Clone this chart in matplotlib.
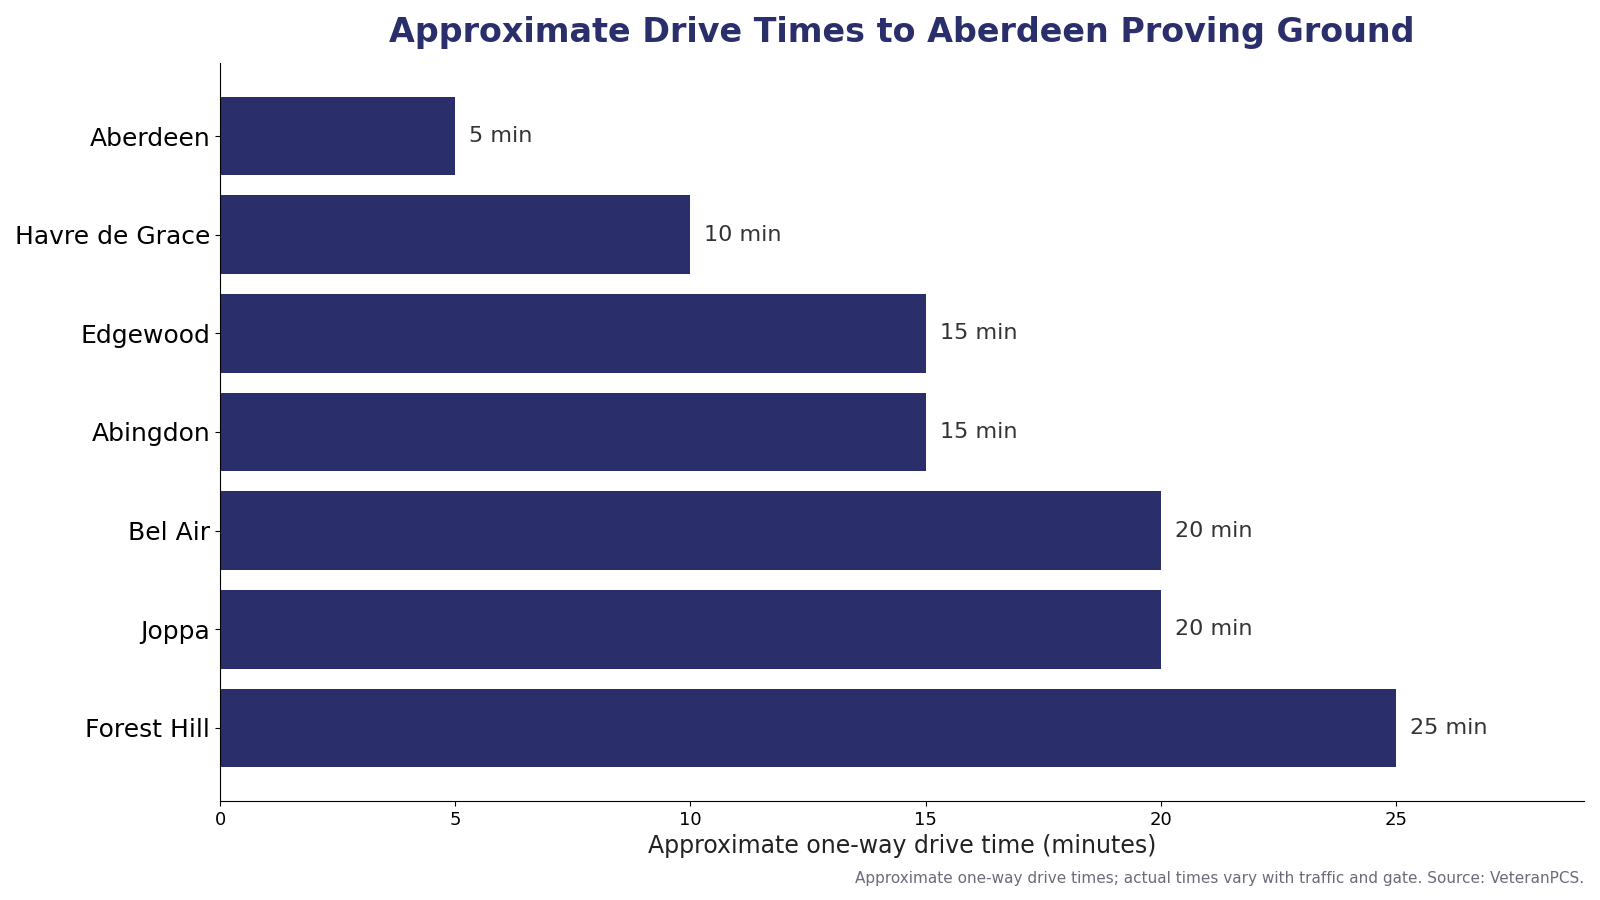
import matplotlib
matplotlib.use("Agg")
import matplotlib.pyplot as plt

# drive times, top to bottom as shown
towns = ["Aberdeen", "Havre de Grace", "Edgewood", "Abingdon", "Bel Air", "Joppa", "Forest Hill"]
minutes = [5, 10, 15, 15, 20, 20, 25]

navy = "#2a2f6b"

fig, ax = plt.subplots(figsize=(16, 9), dpi=100)
fig.subplots_adjust(left=0.1375, right=0.99, top=0.93, bottom=0.11)

ypos = list(range(len(towns)))
ax.barh(ypos, minutes, height=0.8, color=navy)
ax.set_yticks(ypos)
ax.set_yticklabels(towns, fontsize=18)
ax.invert_yaxis()

for y, m in zip(ypos, minutes):
    ax.text(m + 0.3, y, f"{m} min", va="center", ha="left", fontsize=16, color="#333333")

ax.set_xlim(0, max(minutes) * 1.16)
ax.tick_params(axis="x", labelsize=13)
ax.set_xlabel("Approximate one-way drive time (minutes)", fontsize=17, color="#222222")
ax.set_title("Approximate Drive Times to Aberdeen Proving Ground",
             fontsize=24, fontweight="bold", color=navy, pad=15)

ax.spines["top"].set_visible(False)
ax.spines["right"].set_visible(False)

fig.text(0.99, 0.016,
         "Approximate one-way drive times; actual times vary with traffic and gate. Source: VeteranPCS.",
         ha="right", va="bottom", fontsize=11, color="#6b6b7b")

fig.savefig("out.png", dpi=100)
